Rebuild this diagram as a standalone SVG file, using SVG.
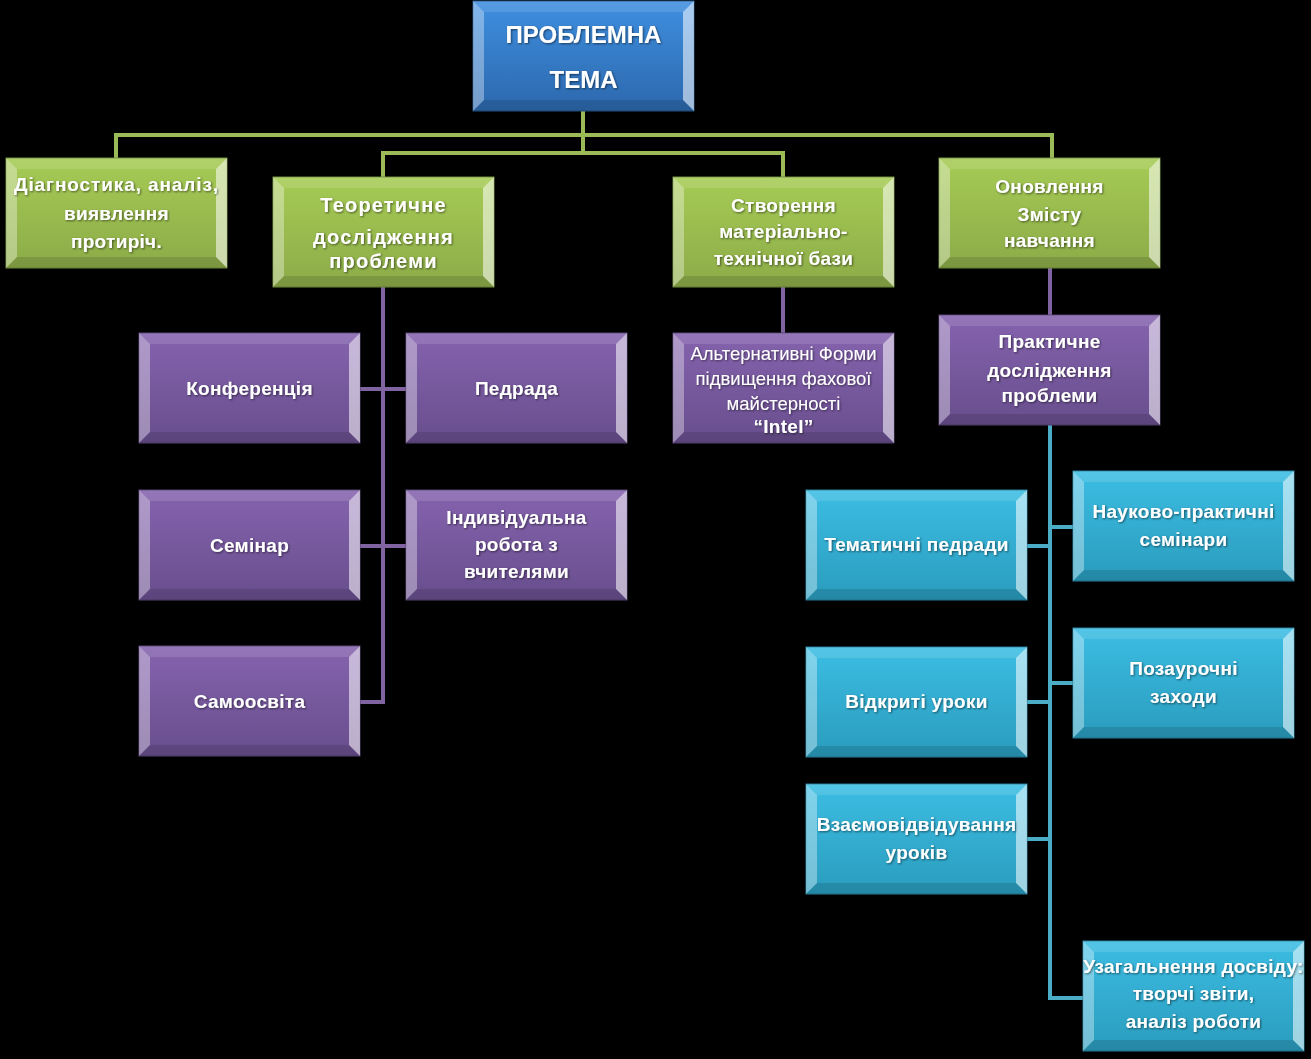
<svg xmlns="http://www.w3.org/2000/svg" xmlns:xlink="http://www.w3.org/1999/xlink" width="1311" height="1059" viewBox="0 0 1311 1059">
<defs>
<linearGradient id="gBlue" x1="0" y1="0" x2="0" y2="1"><stop offset="0" stop-color="#3f8fe0"/><stop offset="1" stop-color="#2c68ad"/></linearGradient>
<linearGradient id="gGreen" x1="0" y1="0" x2="0" y2="1"><stop offset="0" stop-color="#a6cb55"/><stop offset="1" stop-color="#8cab48"/></linearGradient>
<linearGradient id="gPurple" x1="0" y1="0" x2="0" y2="1"><stop offset="0" stop-color="#8563ae"/><stop offset="1" stop-color="#684e8d"/></linearGradient>
<linearGradient id="gCyan" x1="0" y1="0" x2="0" y2="1"><stop offset="0" stop-color="#3cbde3"/><stop offset="1" stop-color="#2a9cbd"/></linearGradient>
<filter id="ts" x="-10%" y="-30%" width="120%" height="160%"><feDropShadow dx="1" dy="1" stdDeviation="0.8" flood-color="#000" flood-opacity="0.55"/></filter>
<g id="bevel">
<polygon points="0,0 221,0 210,11 11,11" fill="#fff" fill-opacity="0.12"/>
<polygon points="0,0 11,11 11,99 0,110" fill="#fff" fill-opacity="0.35"/>
<polygon points="221,0 221,110 210,99 210,11" fill="#fff" fill-opacity="0.55"/>
<polygon points="0,110 11,99 210,99 221,110" fill="#000" fill-opacity="0.12"/>
</g>
</defs>
<style>
.blue{fill:url(#gBlue);stroke:#24507f;stroke-width:1}
.green{fill:url(#gGreen);stroke:#6f8a3a;stroke-width:1}
.purple{fill:url(#gPurple);stroke:#54406f;stroke-width:1}
.cyan{fill:url(#gCyan);stroke:#237f9a;stroke-width:1}
text{font-family:"Liberation Sans",Arial,sans-serif;font-weight:bold;font-size:19px;letter-spacing:0.3px;fill:#fff;text-anchor:middle;filter:url(#ts)}
.t{font-size:24px;letter-spacing:0}
.l{font-size:20px;letter-spacing:1.2px}
.w{letter-spacing:0.9px}
.n{font-weight:normal;font-size:18.5px;letter-spacing:0}
.cg{fill:none;stroke:#9bbb59;stroke-width:4}
.cp{fill:none;stroke:#8064a2;stroke-width:4}
.cc{fill:none;stroke:#4bacc6;stroke-width:4}
</style>
<rect width="1311" height="1059" fill="#000"/>
<g id="connectors">
<path class="cg" d="M583 110 V153 M116 158 V135 H1052 V158 M383 177 V153 H783 V177"/>
<path class="cp" d="M383 287 V702 H360 M360 389 H406 M360 546 H406 M783 287 V333 M1050 268 V315"/>
<path class="cc" d="M1050 425 V998 H1083 M1027 546 H1050 M1050 527 H1073 M1027 702 H1050 M1050 683 H1073 M1027 839 H1050"/>
</g>
<g id="n-top" transform="translate(473,1)"><rect class="blue" width="221" height="110"/><use href="#bevel"/><text class="t" x="110.5" y="42">ПРОБЛЕМНА</text><text class="t" x="110.5" y="87">ТЕМА</text></g>
<g id="n-diag" transform="translate(6,158)"><rect class="green" width="221" height="110"/><use href="#bevel"/><text class="w" x="110.5" y="33">Діагностика, аналіз,</text><text x="110.5" y="62">виявлення</text><text x="110.5" y="90">протиріч.</text></g>
<g id="n-teor" transform="translate(273,177)"><rect class="green" width="221" height="110"/><use href="#bevel"/><text class="l" x="110.5" y="35">Теоретичне</text><text class="l" x="110.5" y="67">дослідження</text><text class="l" x="110.5" y="91">проблеми</text></g>
<g id="n-stvor" transform="translate(673,177)"><rect class="green" width="221" height="110"/><use href="#bevel"/><text x="110.5" y="35">Створення</text><text x="110.5" y="61">матеріально-</text><text x="110.5" y="88">технічної бази</text></g>
<g id="n-onovl" transform="translate(939,158)"><rect class="green" width="221" height="110"/><use href="#bevel"/><text x="110.5" y="35">Оновлення</text><text x="110.5" y="63">Змісту</text><text x="110.5" y="89">навчання</text></g>
<g id="n-konf" transform="translate(139,333)"><rect class="purple" width="221" height="110"/><use href="#bevel"/><text x="110.5" y="62">Конференція</text></g>
<g id="n-pedr" transform="translate(406,333)"><rect class="purple" width="221" height="110"/><use href="#bevel"/><text x="110.5" y="62">Педрада</text></g>
<g id="n-semi" transform="translate(139,490)"><rect class="purple" width="221" height="110"/><use href="#bevel"/><text x="110.5" y="62">Семінар</text></g>
<g id="n-indy" transform="translate(406,490)"><rect class="purple" width="221" height="110"/><use href="#bevel"/><text x="110.5" y="34">Індивідуальна</text><text x="110.5" y="61">робота з</text><text x="110.5" y="88">вчителями</text></g>
<g id="n-samo" transform="translate(139,646)"><rect class="purple" width="221" height="110"/><use href="#bevel"/><text x="110.5" y="62">Самоосвіта</text></g>
<g id="n-alt" transform="translate(673,333)"><rect class="purple" width="221" height="110"/><use href="#bevel"/><text class="n" x="110.5" y="27">Альтернативні Форми</text><text class="n" x="110.5" y="52">підвищення фахової</text><text class="n" x="110.5" y="77">майстерності</text><text x="110.5" y="100">“Intel”</text></g>
<g id="n-prakt" transform="translate(939,315)"><rect class="purple" width="221" height="110"/><use href="#bevel"/><text x="110.5" y="33">Практичне</text><text x="110.5" y="62">дослідження</text><text x="110.5" y="87">проблеми</text></g>
<g id="n-temat" transform="translate(806,490)"><rect class="cyan" width="221" height="110"/><use href="#bevel"/><text x="110.5" y="61">Тематичні педради</text></g>
<g id="n-nauk" transform="translate(1073,471)"><rect class="cyan" width="221" height="110"/><use href="#bevel"/><text x="110.5" y="47">Науково-практичні</text><text x="110.5" y="75">семінари</text></g>
<g id="n-vidkr" transform="translate(806,647)"><rect class="cyan" width="221" height="110"/><use href="#bevel"/><text x="110.5" y="61">Відкриті уроки</text></g>
<g id="n-pozaur" transform="translate(1073,628)"><rect class="cyan" width="221" height="110"/><use href="#bevel"/><text x="110.5" y="47">Позаурочні</text><text x="110.5" y="75">заходи</text></g>
<g id="n-vzaem" transform="translate(806,784)"><rect class="cyan" width="221" height="110"/><use href="#bevel"/><text x="110.5" y="47">Взаємовідвідування</text><text x="110.5" y="75">уроків</text></g>
<g id="n-uzag" transform="translate(1083,941)"><rect class="cyan" width="221" height="110"/><use href="#bevel"/><text x="110.5" y="32">Узагальнення досвіду:</text><text x="110.5" y="59">творчі звіти,</text><text x="110.5" y="87">аналіз роботи</text></g>
</svg>
